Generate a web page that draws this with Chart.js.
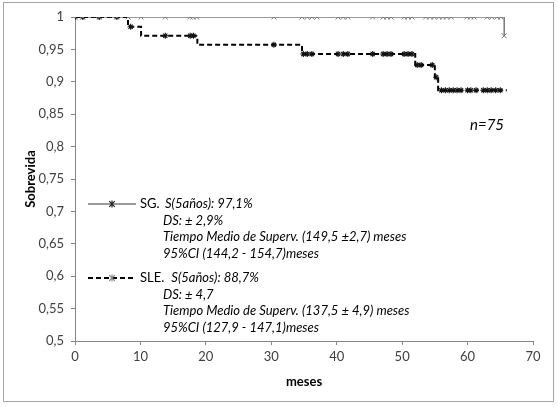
<!DOCTYPE html>
<html><head><meta charset="utf-8">
<script src="https://cdn.jsdelivr.net/npm/chart.js@4/dist/chart.umd.min.js"></script>
<style>html,body{margin:0;padding:0;background:#fff}#wrap{width:558px;height:407px;position:relative}</style>
</head><body><div id="wrap"><canvas id="c" width="558" height="407"></canvas></div>
<script>
// ---- data ----
const xTicks = [0, 10, 20, 30, 40, 50, 60, 70];
const yTicks = [0.5, 0.55, 0.6, 0.65, 0.7, 0.75, 0.8, 0.85, 0.9, 0.95, 1];

// SG (supervivencia global): step points
const sgTimes = [0, 65.6];
const sgSurv = [1, 0.971];
const sgCensor = [0, 1.2, 3.7, 6.4, 8.1, 10.1, 13.8, 17.6, 18.0, 18.6, 30.4, 34.7, 35.5, 36.2, 37.0,
  40.2, 41.0, 41.7, 45.5, 47.1, 47.7, 48.3, 50.3, 50.9, 51.5, 53.6, 54.3, 54.9, 55.6, 56.2, 56.8,
  57.5, 59.9, 60.5, 61.0, 63.0, 63.7, 64.5, 65.1, 65.6];

// SLE (supervivencia libre de evento): step points
const sleTimes = [0, 8.1, 10.1, 18.7, 34.7, 52.0, 55.0, 55.5, 66.0];
const sleSurv = [1, 0.985, 0.971, 0.957, 0.943, 0.926, 0.907, 0.887, 0.887];
const sleCensor = [0, 1.2, 3.7, 6.4, 8.5, 13.8, 17.6, 18.1, 30.4, 34.9, 35.5, 36.2, 40.2, 41.0, 41.7,
  45.5, 47.1, 47.7, 48.3, 50.3, 50.9, 51.5, 52.3, 52.9, 54.6, 55.2, 56.0, 56.6, 57.2, 57.8, 58.4,
  59.0, 60.0, 60.5, 61.3, 62.4, 63.0, 63.6, 64.3, 65.0];

const legendSG = ['S(5años): 97,1%', 'DS: ± 2,9%', 'Tiempo Medio de Superv. (149,5 ±2,7) meses', '95%CI (144,2 - 154,7)meses'];
const legendSLE = ['S(5años): 88,7%', 'DS: ± 4,7', 'Tiempo Medio de Superv. (137,5 ± 4,9) meses', '95%CI (127,9 - 147,1)meses'];

// ---- helpers ----
function stepLevel(times, surv, t) {
  let v = surv[0];
  for (let i = 0; i < times.length; i++) { if (times[i] <= t + 1e-9) v = surv[i]; }
  return v;
}
const sgLine = sgTimes.map((t, i) => ({x: t, y: sgSurv[i]}));
const sleLine = sleTimes.map((t, i) => ({x: t, y: sleSurv[i]}));
const sgMarks = sgCensor.map(t => ({x: t, y: stepLevel(sgTimes, sgSurv, t)}));
const sleMarks = sleCensor.map(t => ({x: t, y: stepLevel(sleTimes, sleSurv, t)}));

const FONT = 'Lato';
const GRAY = '#7a7a7a';

function star(ctx, x, y, r) {
  ctx.beginPath();
  ctx.moveTo(x, y - r); ctx.lineTo(x, y + r);
  const d = r * 0.8;
  ctx.moveTo(x - d, y - d); ctx.lineTo(x + d, y + d);
  ctx.moveTo(x - d, y + d); ctx.lineTo(x + d, y - d);
  ctx.stroke();
}

const decor = {
  id: 'decor',
  afterDraw(chart) {
    const ctx = chart.ctx;
    ctx.save();
    // outer frame
    ctx.strokeStyle = '#a6a6a6';
    ctx.lineWidth = 1;
    ctx.strokeRect(3.5, 2.5, 550, 399);

    const step = 16.5;
    // legend SG
    let y0 = 204;
    ctx.strokeStyle = GRAY; ctx.lineWidth = 1.5; ctx.setLineDash([]);
    ctx.beginPath(); ctx.moveTo(88, y0); ctx.lineTo(136, y0); ctx.stroke();
    ctx.strokeStyle = '#222'; ctx.lineWidth = 1.2; star(ctx, 112, y0, 3.5);
    ctx.fillStyle = '#000'; ctx.textBaseline = 'middle'; ctx.textAlign = 'left';
    ctx.font = '13px ' + FONT; ctx.fillText('SG.', 140, y0);
    ctx.font = 'italic 13px ' + FONT;
    legendSG.forEach((s, i) => ctx.fillText(s, i === 0 ? 165 : 163, y0 + i * step));

    // legend SLE
    y0 = 278;
    ctx.strokeStyle = '#000'; ctx.lineWidth = 2; ctx.setLineDash([5, 3]);
    ctx.beginPath(); ctx.moveTo(88, y0); ctx.lineTo(136, y0); ctx.stroke();
    ctx.setLineDash([]);
    ctx.strokeStyle = '#888'; ctx.lineWidth = 1.2; star(ctx, 112, y0, 3.5);
    ctx.font = '13px ' + FONT; ctx.fillText('SLE.', 140, y0);
    const w = ctx.measureText('SLE.').width;
    ctx.font = 'italic 13px ' + FONT;
    legendSLE.forEach((s, i) => ctx.fillText(s, i === 0 ? 140 + w + 7 : 163, y0 + i * step));

    // n=75
    ctx.font = 'italic 15px ' + FONT;
    ctx.fillText('n=75', 470, 125);
    ctx.restore();
  }
};

new Chart(document.getElementById('c'), {
  type: 'line',
  data: {
    datasets: [
      {label: 'SG', data: sgLine, stepped: 'before', borderColor: GRAY, borderWidth: 1.5, pointRadius: 0, fill: false, order: 2},
      {label: 'SLE', data: sleLine, stepped: 'before', borderColor: '#000', borderWidth: 2, borderDash: [5, 3], pointRadius: 0, fill: false, order: 1},
      {label: 'SG cens', type: 'scatter', data: sgMarks, showLine: false, pointStyle: 'crossRot', pointRadius: 3.5, pointBorderColor: GRAY, pointBorderWidth: 1, order: 0},
      {label: 'SLE cens', type: 'scatter', data: sleMarks, showLine: false, pointStyle: 'star', pointRadius: 3, pointBorderColor: '#111', pointBorderWidth: 1.1, order: 0}
    ]
  },
  options: {
    responsive: false,
    animation: false,
    layout: {padding: {left: 0, top: 17, right: 25, bottom: 0}},
    plugins: {legend: {display: false}, tooltip: {enabled: false}},
    scales: {
      x: {
        type: 'linear', min: 0, max: 70,
        afterBuildTicks: s => { s.ticks = xTicks.map(v => ({value: v})); },
        afterFit: s => { s.height = 66; },
        ticks: {color: '#404040', font: {family: FONT, size: 13}, padding: 4},
        grid: {drawOnChartArea: false, drawTicks: true, tickLength: 4, color: '#868686'},
        border: {display: true, color: '#868686'},
        title: {display: true, text: 'meses', color: '#000', font: {family: FONT, size: 13, weight: 'bold'}, padding: {top: 0, bottom: 17}}
      },
      y: {
        type: 'linear', min: 0.5, max: 1,
        afterBuildTicks: s => { s.ticks = yTicks.map(v => ({value: v})); },
        afterFit: s => { s.width = 75; },
        ticks: {color: '#404040', font: {family: FONT, size: 13}, padding: 7,
          callback: v => String(Math.round(v * 100) / 100).replace('.', ',')},
        grid: {drawOnChartArea: false, drawTicks: true, tickLength: 4, color: '#868686'},
        border: {display: true, color: '#868686'},
        title: {display: true, text: 'Sobrevida', color: '#000', font: {family: FONT, size: 13, weight: 'bold'}, padding: {top: 23, bottom: 0}}
      }
    }
  },
  plugins: [decor]
});
</script>
</body></html>
